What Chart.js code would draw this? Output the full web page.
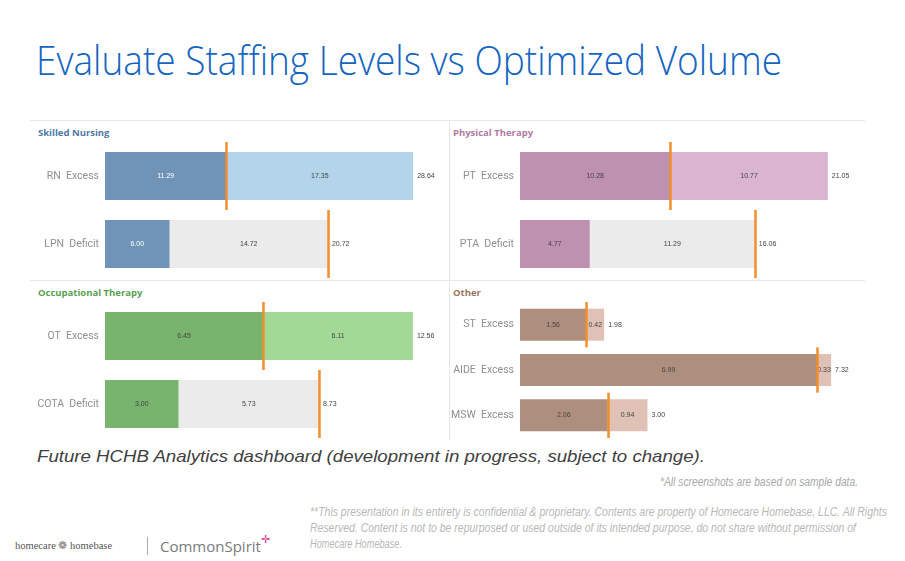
<!DOCTYPE html>
<html><head><meta charset="utf-8">
<script src="https://cdn.jsdelivr.net/npm/chart.js@4/dist/chart.umd.min.js"></script>
<style>
html,body{margin:0;padding:0;background:#fff;width:905px;height:561px;overflow:hidden;position:relative;font-family:Arial,"Liberation Sans",sans-serif;}
.abs{position:absolute;white-space:nowrap;transform-origin:0 50%;}
.panel{position:absolute;width:415px;height:136px;}
.ptitle{position:absolute;font-family:"Open Sans",Arial,sans-serif;font-weight:700;font-size:9.5px;line-height:12px;}
.hl{position:absolute;height:1px;background:#e6e6e6;}
.vl{position:absolute;width:1px;background:#e6e6e6;}
#title{left:36px;top:34px;font-family:"Open Sans",sans-serif;font-weight:300;font-size:40px;line-height:52px;color:#1565c0;}
#caption{left:37px;top:447px;font-style:italic;font-size:17px;line-height:20px;color:#404040;}
#note{top:474px;font-family:"Liberation Sans Narrow","Liberation Sans",Arial;font-style:italic;font-size:12px;line-height:16px;color:#a8a8a8;}
.disc{left:310px;font-family:"Liberation Sans Narrow","Liberation Sans",Arial;font-style:italic;font-size:12.5px;line-height:16px;color:#b8b8b8;}
</style></head>
<body>
<div class="abs" id="title" data-w="746">Evaluate Staffing Levels vs Optimized Volume</div>

<div class="hl" style="left:30px;top:120px;width:835px;"></div>
<div class="hl" style="left:30px;top:280px;width:835px;"></div>
<div class="vl" style="left:449px;top:120px;height:320px;"></div>

<div class="ptitle" style="left:38px;top:127px;color:#4e79a7;">Skilled Nursing</div>
<div class="ptitle" style="left:453px;top:127px;color:#b07aa1;">Physical Therapy</div>
<div class="ptitle" style="left:38px;top:287px;color:#59a14f;">Occupational Therapy</div>
<div class="ptitle" style="left:453px;top:287px;color:#9c755f;">Other</div>

<div class="panel" style="left:30px;top:142px;"><canvas id="c1" width="415" height="136"></canvas></div>
<div class="panel" style="left:445px;top:142px;"><canvas id="c2" width="415" height="136"></canvas></div>
<div class="panel" style="left:30px;top:302px;"><canvas id="c3" width="415" height="136"></canvas></div>
<div class="panel" style="left:445px;top:302px;"><canvas id="c4" width="415" height="136"></canvas></div>

<div class="abs" id="caption" data-w="668">Future HCHB Analytics dashboard (development in progress, subject to change).</div>
<div class="abs" id="note" data-w="198" data-r="858">*All screenshots are based on sample data.</div>
<div class="abs disc" style="top:504px;" data-w="577">**This presentation in its entirety is confidential &amp; proprietary. Contents are property of Homecare Homebase, LLC. All Rights</div>
<div class="abs disc" style="top:520px;" data-w="546">Reserved. Content is not to be repurposed or used outside of its intended purpose, do not share without permission of</div>
<div class="abs disc" style="top:536px;" data-w="92">Homecare Homebase.</div>

<div class="abs" style="left:15px;top:539px;font-family:'Liberation Serif','DejaVu Serif',serif;font-size:10.5px;line-height:14px;color:#555;">homecare <span style="color:#777">&#10049;</span> homebase</div>
<div class="vl" style="left:147px;top:537px;height:18px;background:#aaa;"></div>
<div class="abs" style="left:160px;top:537px;font-family:'Open Sans',Arial,sans-serif;font-size:15px;line-height:18px;color:#7a7a7a;">CommonSpirit<span style="position:relative;top:-9px;font-size:11px;color:#d6368a;">&#10011;</span></div>

<script>
// ---- data ----
const snCodes = ['RN', 'LPN'];
const snStatus = ['Excess', 'Deficit'];
const snFirst = [11.29, 6.00];
const snSecond = [17.35, 14.72];
const snTotal = [28.64, 20.72];
const snTarget = [11.29, 20.72];

const ptCodes = ['PT', 'PTA'];
const ptStatus = ['Excess', 'Deficit'];
const ptFirst = [10.28, 4.77];
const ptSecond = [10.77, 11.29];
const ptTotal = [21.05, 16.06];
const ptTarget = [10.28, 16.06];

const otCodes = ['OT', 'COTA'];
const otStatus = ['Excess', 'Deficit'];
const otFirst = [6.45, 3.00];
const otSecond = [6.11, 5.73];
const otTotal = [12.56, 8.73];
const otTarget = [6.45, 8.73];

const otherCodes = ['ST', 'AIDE', 'MSW'];
const otherStatus = ['Excess', 'Excess', 'Excess'];
const otherFirst = [1.56, 6.99, 2.06];
const otherSecond = [0.42, 0.33, 0.94];
const otherTotal = [1.98, 7.32, 3.00];
const otherTarget = [1.56, 6.99, 2.06];

const axisMax = [31.6, 23.25, 13.87, 8.0];

function makePanel(id, codes, status, first, second, total, target, dark, light, firstText, max) {
  const labels = codes.map((c, i) => c + '  ' + status[i]);
  const secondColors = status.map(s => s === 'Excess' ? light : '#ebebeb');
  const overlay = {
    id: 'overlay' + id,
    afterDatasetsDraw(chart) {
      const ctx = chart.ctx;
      const x = chart.scales.x, y = chart.scales.y;
      ctx.save();
      ctx.font = '7px Arial';
      ctx.textBaseline = 'middle';
      [0, 1].forEach(di => {
        const meta = chart.getDatasetMeta(di);
        meta.data.forEach((el, i) => {
          const v = chart.data.datasets[di].data[i];
          ctx.fillStyle = di === 0 ? firstText : '#444';
          ctx.textAlign = 'center';
          ctx.fillText(v.toFixed(2), (el.x + el.base) / 2, el.y);
        });
      });
      const m1 = chart.getDatasetMeta(1);
      m1.data.forEach((el, i) => {
        ctx.fillStyle = '#444';
        ctx.textAlign = 'left';
        ctx.fillText(total[i].toFixed(2), x.getPixelForValue(total[i]) + 4, el.y);
      });
      const band = (y.bottom - y.top) / labels.length;
      ctx.strokeStyle = '#f28e2b';
      ctx.lineWidth = 2.5;
      target.forEach((t, i) => {
        const px = Math.round(x.getPixelForValue(t)) + 0.5;
        const cy = y.getPixelForValue(i);
        ctx.beginPath();
        ctx.moveTo(px, cy - band / 2);
        ctx.lineTo(px, cy + band / 2);
        ctx.stroke();
      });
      ctx.restore();
    }
  };
  return new Chart(document.getElementById(id), {
    type: 'bar',
    data: {
      labels,
      datasets: [
        { data: first, backgroundColor: dark, borderWidth: 0, categoryPercentage: 1, barPercentage: 0.706 },
        { data: second, backgroundColor: secondColors, borderWidth: 0, categoryPercentage: 1, barPercentage: 0.706 }
      ]
    },
    options: {
      indexAxis: 'y',
      responsive: false,
      animation: false,
      layout: { padding: 0, autoPadding: false },
      plugins: { legend: { display: false }, tooltip: { enabled: false } },
      scales: {
        x: { stacked: true, min: 0, max, display: false },
        y: {
          stacked: true,
          grid: { display: false, drawTicks: false },
          border: { display: false },
          ticks: { color: '#8f8f8f', font: { size: 10.5, family: 'Roboto' }, padding: 6 },
          afterFit(s) { s.width = 75; s.paddingTop = 0; s.paddingBottom = 0; }
        }
      }
    },
    plugins: [overlay]
  });
}

makePanel('c1', snCodes, snStatus, snFirst, snSecond, snTotal, snTarget, '#7094b8', '#b3d4ea', '#ffffff', axisMax[0]);
makePanel('c2', ptCodes, ptStatus, ptFirst, ptSecond, ptTotal, ptTarget, '#bf91b0', '#dbb4d1', '#444', axisMax[1]);
makePanel('c3', otCodes, otStatus, otFirst, otSecond, otTotal, otTarget, '#79b46f', '#a3d996', '#444', axisMax[2]);
makePanel('c4', otherCodes, otherStatus, otherFirst, otherSecond, otherTotal, otherTarget, '#ae8f7d', '#dfc2b5', '#444', axisMax[3]);

// fit text widths
document.querySelectorAll('[data-w]').forEach(el => {
  const target = parseFloat(el.dataset.w);
  const w = el.getBoundingClientRect().width;
  el.style.transform = 'scaleX(' + (target / w) + ')';
  if (el.dataset.r) el.style.left = (parseFloat(el.dataset.r) - target) + 'px';
});
</script>
</body></html>
